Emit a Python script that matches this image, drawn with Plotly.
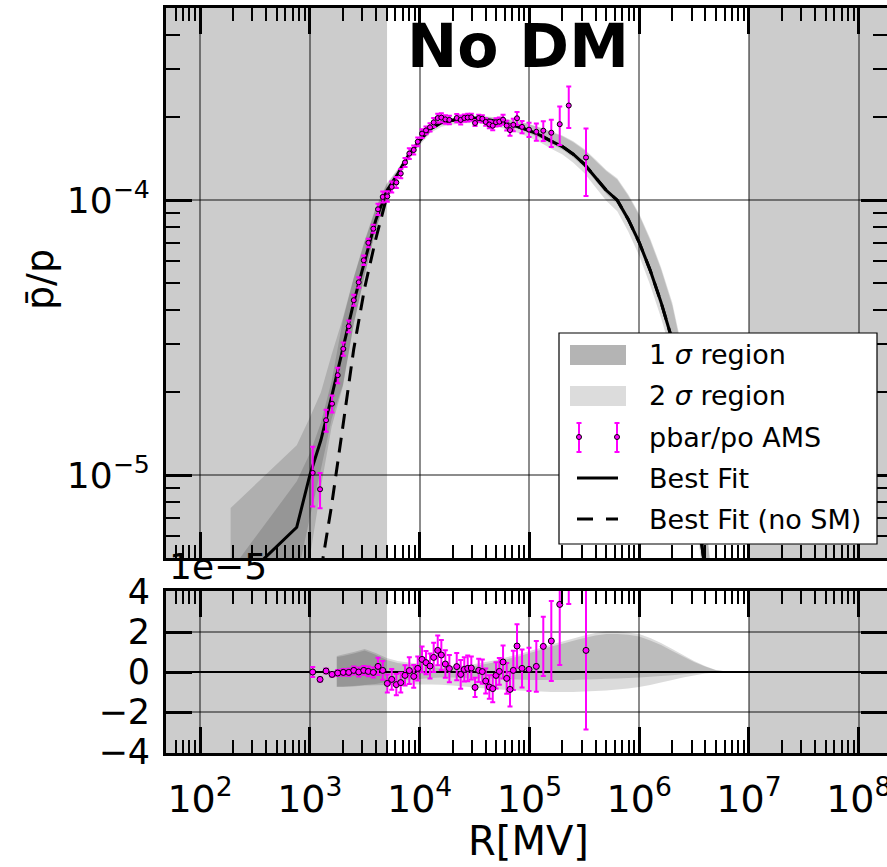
import plotly.graph_objects as go

# ---------------- data ----------------
# Best-fit grid (rigidity in MV) and model curves
R_fit = [190, 760, 1000, 1260, 1580, 2000, 2510, 3160, 3980, 5010, 6310, 7940,
         1.0e4, 1.26e4, 1.58e4, 2.0e4, 2.51e4, 3.16e4, 3.98e4, 5.01e4, 6.31e4, 7.94e4,
         1.0e5, 1.26e5, 1.58e5, 2.0e5, 2.51e5, 3.16e5, 3.98e5, 5.01e5, 6.31e5, 7.94e5,
         1.0e6, 1.26e6, 1.58e6, 2.0e6, 2.51e6, 3.16e6, 3.98e6, 5.01e6, 6.31e6, 7.94e6]
fit = [0.38e-5, 0.647e-5, 1.0e-5, 1.34e-5, 1.93e-5, 2.85e-5, 4.25e-5, 6.0e-5, 8.45e-5, 10.8e-5,
       12.44e-5, 14.6e-5, 16.45e-5, 18.2e-5, 19.14e-5, 19.54e-5, 19.77e-5, 19.86e-5, 19.72e-5,
       19.37e-5, 18.97e-5, 18.5e-5, 17.9e-5, 17.2e-5, 16.4e-5, 15.67e-5, 14.7e-5, 13.53e-5,
       12.13e-5, 10.87e-5, 10.0e-5, 8.53e-5, 7.03e-5, 5.56e-5, 4.26e-5, 3.1e-5, 1.95e-5,
       0.96e-5, 0.45e-5, 0.2e-5, 0.08e-5, 0.03e-5]
band_u2 = [0.76e-5, 1.285e-5, 1.62e-5, 2.0e-5, 2.75e-5, 3.73e-5, 5.25e-5, 7.15e-5, 9.4e-5, 11.5e-5,
           12.99e-5, 15.08e-5, 16.88e-5, 18.53e-5, 19.42e-5, 19.84e-5, 20.1e-5, 20.26e-5, 20.22e-5,
           19.97e-5, 19.72e-5, 19.38e-5, 18.95e-5, 18.4e-5, 17.78e-5, 17.19e-5, 16.38e-5, 15.35e-5,
           14.08e-5, 12.89e-5, 12.02e-5, 10.51e-5, 8.93e-5, 7.26e-5, 5.71e-5, 4.25e-5, 2.8e-5,
           1.51e-5, 0.75e-5, 0.3e-5, 0.11e-5, 0.03e-5]
band_u1 = [0.45e-5, 0.95e-5, 1.2e-5, 1.55e-5, 2.2e-5, 3.67e-5, 5.2e-5, 7.08e-5, 9.3e-5, 11.4e-5,
           12.89e-5, 14.98e-5, 16.78e-5, 18.45e-5, 19.34e-5, 19.76e-5, 20.02e-5, 20.16e-5, 20.12e-5,
           19.87e-5, 19.62e-5, 19.28e-5, 18.85e-5, 18.3e-5, 17.67e-5, 17.08e-5, 16.26e-5, 15.23e-5,
           13.96e-5, 12.77e-5, 11.9e-5, 10.39e-5, 8.81e-5, 7.14e-5, 5.61e-5, 4.15e-5, 2.72e-5,
           1.46e-5, 0.72e-5, 0.29e-5, 0.1e-5, 0.03e-5]
band_l1 = [0.2e-5, 0.42e-5, 0.7e-5, 1.05e-5, 1.6e-5, 2.13e-5, 3.55e-5, 5.35e-5, 7.85e-5, 10.3e-5,
           11.99e-5, 14.2e-5, 16.1e-5, 17.9e-5, 18.86e-5, 19.26e-5, 19.47e-5, 19.56e-5, 19.4e-5,
           19.03e-5, 18.61e-5, 18.12e-5, 17.5e-5, 16.8e-5, 16.0e-5, 15.27e-5, 14.3e-5, 13.15e-5,
           11.77e-5, 10.53e-5, 9.68e-5, 8.23e-5, 6.76e-5, 5.32e-5, 4.06e-5, 2.94e-5, 1.84e-5,
           0.89e-5, 0.41e-5, 0.19e-5, 0.08e-5, 0.03e-5]
band_l2 = [0.1e-5, 0.3e-5, 0.5e-5, 0.9e-5, 1.5e-5, 2.1e-5, 3.53e-5, 5.32e-5, 7.79e-5, 10.15e-5,
           11.79e-5, 13.97e-5, 15.83e-5, 17.58e-5, 18.5e-5, 18.86e-5, 19.05e-5, 19.08e-5, 18.9e-5,
           18.51e-5, 18.07e-5, 17.57e-5, 16.94e-5, 16.22e-5, 15.4e-5, 14.67e-5, 13.7e-5, 12.55e-5,
           11.18e-5, 9.95e-5, 9.12e-5, 7.7e-5, 6.28e-5, 4.91e-5, 3.74e-5, 2.7e-5, 1.67e-5,
           0.79e-5, 0.37e-5, 0.18e-5, 0.07e-5, 0.03e-5]

# Best fit without secondary (no SM): differs only below ~6 GV
R_nosm = [1260, 1580, 2000, 2510, 3160, 3980, 5010, 6310, 7940, 1.0e4, 1.26e4, 1.58e4, 2.0e4,
          2.51e4, 3.16e4, 3.98e4, 5.01e4, 6.31e4, 7.94e4, 1.0e5, 1.26e5, 1.58e5, 2.0e5, 2.51e5,
          3.16e5, 3.98e5, 5.01e5, 6.31e5, 7.94e5, 1.0e6, 1.26e6, 1.58e6, 2.0e6, 2.51e6, 3.16e6,
          3.98e6]
fit_nosm = [0.448e-5, 0.778e-5, 1.507e-5, 2.87e-5, 4.81e-5, 7.21e-5, 10.26e-5, 12.44e-5, 14.6e-5,
            16.45e-5, 18.2e-5, 19.14e-5, 19.54e-5, 19.77e-5, 19.86e-5, 19.72e-5, 19.37e-5,
            18.97e-5, 18.5e-5, 17.9e-5, 17.2e-5, 16.4e-5, 15.67e-5, 14.7e-5, 13.53e-5, 12.13e-5,
            10.87e-5, 10.0e-5, 8.53e-5, 7.03e-5, 5.56e-5, 4.26e-5, 3.1e-5, 1.95e-5,
            0.96e-5, 0.45e-5]

# AMS pbar/p data points
R_data = [1062, 1239, 1405, 1594, 1795, 2018, 2262, 2512, 2789, 3097, 3411, 3787, 4178, 4613,
          5080, 5572, 6136, 6730, 7363, 8060, 8836, 9616, 10520, 11430, 12440, 13430, 14620,
          15770, 17150, 18660, 21780, 23670, 25530, 27420, 29570, 31980, 34530, 37240, 40000,
          43150, 46340, 49660, 53220, 57540, 62120, 66570, 71340, 77120, 85670, 99170, 115600,
          133800, 158300, 188900, 228200, 327700]
ratio_data = [1.02e-5, 0.889e-5, 1.585e-5, 1.82e-5, 2.31e-5, 2.88e-5, 3.48e-5, 4.33e-5, 5.03e-5,
              6.05e-5, 7.0e-5, 7.88e-5, 9.27e-5, 10.28e-5, 10.33e-5, 11.18e-5, 11.61e-5, 12.51e-5,
              13.72e-5, 14.78e-5, 15.23e-5, 16.32e-5, 17.47e-5, 17.94e-5, 18.41e-5, 19.19e-5,
              19.89e-5, 19.97e-5, 19.68e-5, 19.59e-5, 19.9e-5, 19.59e-5, 19.91e-5, 19.98e-5,
              20.03e-5, 19.09e-5, 19.89e-5, 19.78e-5, 19.26e-5, 18.85e-5, 18.66e-5, 19.21e-5,
              19.3e-5, 19.63e-5, 18.68e-5, 17.99e-5, 18.8e-5, 19.86e-5, 18.48e-5, 18.06e-5,
              17.74e-5, 17.9e-5, 17.6e-5, 18.9e-5, 22.1e-5, 14.3e-5]
ratio_err = [0.25e-5, 0.13e-5, 0.145e-5, 0.13e-5, 0.15e-5, 0.16e-5, 0.17e-5, 0.2e-5, 0.22e-5,
             0.24e-5, 0.25e-5, 0.27e-5, 0.43e-5, 0.47e-5, 0.45e-5, 0.52e-5, 0.53e-5, 0.49e-5,
             0.51e-5, 0.67e-5, 0.57e-5, 0.6e-5, 0.64e-5, 0.58e-5, 0.63e-5, 0.73e-5, 0.74e-5,
             0.75e-5, 0.69e-5, 0.68e-5, 0.68e-5, 0.72e-5, 0.61e-5, 0.64e-5, 0.58e-5, 0.48e-5,
             0.58e-5, 0.61e-5, 0.62e-5, 0.59e-5, 0.68e-5, 0.66e-5, 0.67e-5, 0.83e-5, 0.77e-5,
             0.85e-5, 0.98e-5, 1.09e-5, 0.95e-5, 1.08e-5, 1.27e-5, 1.48e-5, 2.0e-5, 3.03e-5,
             3.8e-5, 3.95e-5]

# Residuals (data - best fit), in units of 1e-5
res_data = [0.0, -0.37, 0.05, -0.12, -0.05, -0.02, -0.02, 0.08, 0.0, 0.08, 0.03, -0.02, 0.28,
            0.08, -0.57, -0.37, -0.63, -0.53, -0.17, 0.07, -0.22, 0.18, 0.63, 0.47, 0.30, 0.73,
            1.08, 0.85, 0.40, 0.17, 0.27, -0.12, 0.13, 0.18, 0.20, -0.77, 0.08, 0.02, -0.45,
            -0.75, -0.83, -0.17, 0.03, 0.50, -0.32, -0.87, 0.08, 1.30, 0.18, 0.13, 0.28, 1.28,
            1.55, 3.38, 7.0, 1.08]
res_err = [0.25, 0.1, 0.12, 0.12, 0.15, 0.17, 0.18, 0.2, 0.22, 0.22, 0.24, 0.25, 0.43, 0.47,
           0.45, 0.52, 0.53, 0.49, 0.51, 0.67, 0.57, 0.6, 0.64, 0.58, 0.63, 0.73, 0.74, 0.75,
           0.69, 0.68, 0.68, 0.72, 0.61, 0.64, 0.58, 0.48, 0.58, 0.61, 0.62, 0.59, 0.68, 0.66,
           0.67, 0.83, 0.77, 0.85, 0.98, 1.09, 0.95, 1.08, 1.27, 1.48, 2.0, 3.03, 3.6, 3.95]

# Residual bands (band - best fit), in units of 1e-5
R_resband = [1760, 2000, 2510, 3160, 3980, 5010, 6310, 7940, 1.0e4, 1.26e4, 1.58e4, 2.0e4,
             2.51e4, 3.16e4, 3.98e4, 5.01e4, 6.31e4, 7.94e4, 1.0e5, 1.26e5, 1.58e5, 2.0e5,
             2.51e5, 3.16e5, 3.98e5, 5.01e5, 6.31e5, 7.94e5, 1.0e6, 1.26e6, 1.58e6, 2.0e6,
             2.51e6, 3.16e6, 3.98e6, 5.01e6, 6.31e6, 7.94e6]
res_u2 = [0.8, 0.88, 1.0, 1.15, 0.95, 0.7, 0.55, 0.48, 0.43, 0.33, 0.28, 0.3, 0.33, 0.4, 0.5,
          0.6, 0.75, 0.88, 1.05, 1.2, 1.38, 1.52, 1.68, 1.82, 1.95, 2.02, 2.02, 1.98, 1.9, 1.7,
          1.45, 1.15, 0.85, 0.55, 0.3, 0.1, 0.03, 0.0]
res_u1 = [0.75, 0.8, 0.92, 1.07, 0.86, 0.6, 0.45, 0.38, 0.33, 0.25, 0.2, 0.22, 0.25, 0.3, 0.4,
          0.5, 0.65, 0.78, 0.95, 1.1, 1.27, 1.41, 1.56, 1.7, 1.83, 1.9, 1.9, 1.86, 1.78, 1.58,
          1.35, 1.05, 0.77, 0.5, 0.27, 0.09, 0.02, 0.0]
res_l1 = [-0.72, -0.72, -0.7, -0.65, -0.6, -0.5, -0.45, -0.4, -0.35, -0.3, -0.28, -0.28, -0.3,
          -0.3, -0.32, -0.34, -0.36, -0.38, -0.4, -0.4, -0.4, -0.4, -0.4, -0.38, -0.36, -0.34,
          -0.32, -0.3, -0.27, -0.24, -0.2, -0.16, -0.11, -0.07, -0.04, -0.01, 0.0, 0.0]
res_l2 = [-0.75, -0.75, -0.72, -0.68, -0.66, -0.65, -0.65, -0.63, -0.62, -0.62, -0.64, -0.68,
          -0.72, -0.78, -0.82, -0.86, -0.9, -0.93, -0.96, -0.98, -1.0, -1.0, -1.0, -0.98, -0.95,
          -0.92, -0.88, -0.83, -0.75, -0.65, -0.52, -0.4, -0.28, -0.17, -0.08, -0.02, -0.01, 0.0]

# axis ticks / labels
x_major = [1e2, 1e3, 1e4, 1e5, 1e6, 1e7, 1e8]
x_major_text = ["10<sup>2</sup>", "10<sup>3</sup>", "10<sup>4</sup>", "10<sup>5</sup>",
                "10<sup>6</sup>", "10<sup>7</sup>", "10<sup>8</sup>"]
y_major = [1e-5, 1e-4]
y_major_text = ["10<sup>\u22125</sup>", "10<sup>\u22124</sup>"]
res_ticks = [-4, -2, 0, 2, 4]
res_ticktext = ["\u22124", "\u22122", "0", "2", "4"]
legend_labels = ["1 <i>\u03c3</i> region", "2 <i>\u03c3</i> region", "pbar/po AMS",
                 "Best Fit", "Best Fit (no SM)"]

# ---------------- styling ----------------
FONT = "DejaVu Sans"
MAG = "#ff00ff"
BAND2 = "rgba(0,0,0,0.14)"
BAND1 = "rgba(0,0,0,0.14)"
SHADE = "rgba(0,0,0,0.2)"
GRID = "rgba(0,0,0,0.45)"
W, H = 887, 867
ML, MT, MB = 166, 8, 114
PW, PH = W - ML, H - MT - MB


def fx(px):  # pixel -> paper x
    return (px - ML) / PW


def fy(py):  # pixel -> paper y
    return (H - MB - py) / PH


x_minor = [m * 10 ** e for e in range(1, 9) for m in range(2, 10)]
y_minor = [m * 10 ** e for e in (-6, -5, -4) for m in range(2, 10)]

fig = go.Figure()


def band(xs, lo, hi, color, xa, ya):
    return go.Scatter(x=list(xs) + list(xs)[::-1], y=list(hi) + list(lo)[::-1],
                      fill="toself", fillcolor=color, mode="none", hoverinfo="skip",
                      showlegend=False, xaxis=xa, yaxis=ya)


# top panel
fig.add_trace(band(R_fit, band_l2, band_u2, BAND2, "x", "y"))
fig.add_trace(band(R_fit, band_l1, band_u1, BAND1, "x", "y"))
fig.add_trace(go.Scatter(x=R_fit, y=fit, mode="lines", line=dict(color="black", width=3),
                         name="Best Fit", showlegend=False))
fig.add_trace(go.Scatter(x=R_nosm, y=fit_nosm, mode="lines",
                         line=dict(color="black", width=3, dash="15px,9px"),
                         name="Best Fit (no SM)", showlegend=False))
fig.add_trace(go.Scatter(x=R_data, y=ratio_data, mode="markers", name="pbar/po AMS",
                         showlegend=False,
                         marker=dict(symbol="circle", size=5, color=MAG,
                                     line=dict(color="black", width=1)),
                         error_y=dict(type="data", array=ratio_err, color=MAG, thickness=2,
                                      width=2.5)))

# bottom panel
fig.add_trace(band(R_resband, res_l2, res_u2, BAND2, "x2", "y2"))
fig.add_trace(band(R_resband, res_l1, res_u1, BAND1, "x2", "y2"))
fig.add_trace(go.Scatter(x=R_data, y=res_data, mode="markers", showlegend=False,
                         marker=dict(symbol="circle", size=6, color=MAG,
                                     line=dict(color="black", width=1)),
                         error_y=dict(type="data", array=res_err, color=MAG, thickness=2,
                                      width=2.5),
                         xaxis="x2", yaxis="y2"))

# shaded excluded regions
shapes = []
for xr, yr in (("x", "y domain"), ("x2", "y2 domain")):
    for x0, x1 in ((10, 5050), (1e7, 1e9)):
        shapes.append(dict(type="rect", xref=xr, yref=yr, x0=x0, x1=x1, y0=0, y1=1,
                           fillcolor=SHADE, line=dict(width=0), layer="below"))

# ---- legend box (drawn as annotations/shapes, in paper coordinates) ----
P = dict(xref="paper", yref="paper", layer="above")
shapes.append(dict(type="rect", x0=fx(559), x1=fx(877), y0=fy(544), y1=fy(333),
                   fillcolor="white", line=dict(color="black", width=1.2), **P))
shapes.append(dict(type="rect", x0=fx(570), x1=fx(626), y0=fy(365), y1=fy(345),
                   fillcolor="#b4b4b4", line=dict(width=0), **P))
shapes.append(dict(type="rect", x0=fx(570), x1=fx(626), y0=fy(406), y1=fy(386),
                   fillcolor="#dcdcdc", line=dict(width=0), **P))
for xm in (579, 617):
    shapes.append(dict(type="line", x0=fx(xm), x1=fx(xm), y0=fy(452), y1=fy(423),
                       line=dict(color=MAG, width=2), **P))
    for yc in (423, 452):
        shapes.append(dict(type="line", x0=fx(xm - 2.5), x1=fx(xm + 2.5), y0=fy(yc),
                           y1=fy(yc), line=dict(color=MAG, width=2), **P))
    shapes.append(dict(type="circle", x0=fx(xm - 2.5), x1=fx(xm + 2.5), y0=fy(439.5),
                       y1=fy(434.5), fillcolor=MAG, line=dict(color="black", width=1), **P))
shapes.append(dict(type="line", x0=fx(577), x1=fx(618), y0=fy(478), y1=fy(478),
                   line=dict(color="black", width=3), **P))
for a, b in ((577, 593), (606, 618)):
    shapes.append(dict(type="line", x0=fx(a), x1=fx(b), y0=fy(519), y1=fy(519),
                       line=dict(color="black", width=3), **P))

annotations = []
for lab, yc in zip(legend_labels, (355, 396, 437, 478, 519)):
    annotations.append(dict(text=lab, xref="paper", yref="paper", x=fx(647), y=fy(yc),
                            xanchor="left", yanchor="middle", showarrow=False,
                            font=dict(family=FONT, size=27, color="black")))

annotations += [
    dict(text="<b>No DM</b>", xref="paper", yref="paper", x=fx(518), y=fy(46),
         xanchor="center", yanchor="middle", showarrow=False,
         font=dict(family=FONT, size=60, color="black")),
    dict(text="p\u0304/p", xref="paper", yref="paper", x=fx(40), y=fy(280),
         xanchor="center", yanchor="middle", textangle=-90, showarrow=False,
         font=dict(family=FONT, size=38, color="black")),
    dict(text="R[MV]", xref="paper", yref="paper", x=fx(528), y=fy(866),
         xanchor="center", yanchor="bottom", showarrow=False,
         font=dict(family=FONT, size=40, color="black")),
    dict(text="1e\u22125", xref="paper", yref="paper", x=fx(167), y=fy(589),
         xanchor="left", yanchor="bottom", showarrow=False,
         font=dict(family=FONT, size=36, color="black")),
]

xrange_ = [1.69, 8.257]
common_x = dict(type="log", range=xrange_, showline=True, linewidth=3, linecolor="black",
                mirror="ticks", ticks="inside", ticklen=26, tickwidth=2.5, tickcolor="black",
                tickmode="array", tickvals=x_major, showgrid=True, gridcolor=GRID,
                gridwidth=1.5, zeroline=False, automargin=False,
                minor=dict(ticks="inside", ticklen=13, tickwidth=1.5, tickcolor="black",
                           tickmode="array", tickvals=x_minor, showgrid=False))

fig.update_layout(
    width=W, height=H,
    margin=dict(l=ML, r=0, t=MT, b=MB, autoexpand=False),
    paper_bgcolor="white", plot_bgcolor="white",
    font=dict(family=FONT, color="black"),
    showlegend=False,
    xaxis=dict(common_x, domain=[0, 1], anchor="y", showticklabels=False),
    xaxis2=dict(common_x, domain=[0, 1], anchor="y2", matches="x",
                ticktext=x_major_text, ticklabeloverflow="allow",
                tickfont=dict(family=FONT, size=38, color="black"), ticklabelstandoff=10),
    yaxis=dict(type="log", domain=[fy(558), 1], anchor="x", automargin=False,
               range=[-5.301, -3.301], showline=True, linewidth=3, linecolor="black",
               mirror="ticks", ticks="inside", ticklen=26, tickwidth=2.5, tickcolor="black",
               tickmode="array", tickvals=y_major, ticktext=y_major_text,
               tickfont=dict(family=FONT, size=36, color="black"), ticklabelstandoff=6,
               showgrid=True, gridcolor=GRID, gridwidth=1.5, zeroline=False,
               minor=dict(ticks="inside", ticklen=14, tickwidth=1.5, tickcolor="black",
                          tickmode="array", tickvals=y_minor, showgrid=False)),
    yaxis2=dict(domain=[0, fy(591)], anchor="x2", range=[-4.05, 4.05], showline=True,
                automargin=False,
                linewidth=3, linecolor="black", mirror="ticks", ticks="inside", ticklen=26,
                tickwidth=2.5, tickcolor="black", tickmode="array", tickvals=res_ticks,
                ticktext=res_ticktext, tickfont=dict(family=FONT, size=35, color="black"),
                ticklabelstandoff=6, showgrid=True, gridcolor=GRID, gridwidth=1.5,
                zeroline=True, zerolinecolor="black", zerolinewidth=2),
    shapes=shapes,
    annotations=annotations,
)

fig.write_html("out.html")
